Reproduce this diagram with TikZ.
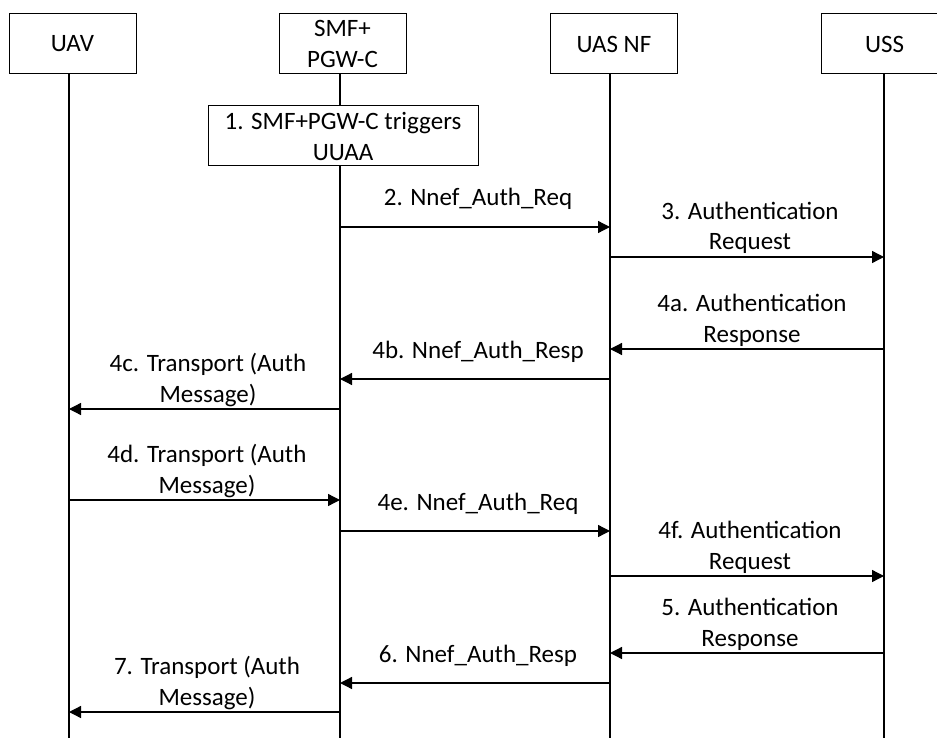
\documentclass[tikz,border=0pt]{standalone}
\usepackage{fontspec}
\setmainfont{Carlito}
\usetikzlibrary{arrows.meta}
\begin{document}
\begin{tikzpicture}[x=1pt,y=-1pt,
  actor/.style={draw, line width=1pt, fill=white, minimum width=127pt, minimum height=60pt, align=center, inner sep=0pt, font=\fontsize{25}{31}\selectfont},
  lifeline/.style={line width=1.3pt},
  msg/.style={line width=1.3pt, -{Triangle[length=12pt,width=12pt]}},
  lbl/.style={anchor=base, align=center, inner sep=0pt, font=\fontsize{25}{31}\selectfont},
]
\path[use as bounding box] (0,0) rectangle (937,738);
\clip (0,0) rectangle (937,738);

% lifeline anchors
\coordinate (uavL) at (69,74);  \coordinate (uavE) at (69,738);
\coordinate (smfL) at (340,74); \coordinate (smfE) at (340,738);
\coordinate (uasL) at (610,74); \coordinate (uasE) at (610,738);
\coordinate (ussL) at (884,74); \coordinate (ussE) at (884,738);

\draw[lifeline] (uavL) -- (uavE);
\draw[lifeline] (smfL) -- (smfE);
\draw[lifeline] (uasL) -- (uasE);
\draw[lifeline] (ussL) -- (ussE);

% actors
\node[actor] (uav) at (72.5,44) {UAV};
\node[actor] (smf) at (342.5,44) {SMF+\\PGW-C};
\node[actor] (uas) at (614,44) {UAS NF};
\node[actor] (uss) at (884.5,44) {USS};

% step 1
\node[actor, minimum width=270pt] (s1) at (343,136) {1. SMF+PGW-C triggers\\UUAA};

% messages
\draw[msg] (smfL |- 0,227) -- (uasL |- 0,227);
\draw[msg] (uasL |- 0,257) -- (ussL |- 0,257);
\draw[msg] (ussL |- 0,349) -- (uasL |- 0,349);
\draw[msg] (uasL |- 0,379) -- (smfL |- 0,379);
\draw[msg] (smfL |- 0,409) -- (uavL |- 0,409);
\draw[msg] (uavL |- 0,500) -- (smfL |- 0,500);
\draw[msg] (smfL |- 0,531) -- (uasL |- 0,531);
\draw[msg] (uasL |- 0,576) -- (ussL |- 0,576);
\draw[msg] (ussL |- 0,653) -- (uasL |- 0,653);
\draw[msg] (uasL |- 0,683) -- (smfL |- 0,683);
\draw[msg] (smfL |- 0,712) -- (uavL |- 0,712);

% labels (anchor = baseline of last line)
\node[lbl] (l2)  at (478,206) {2. Nnef\_Auth\_Req};
\node[lbl] (l3)  at (750,250) {3. Authentication\\Request};
\node[lbl] (l4a) at (752,342) {4a. Authentication\\Response};
\node[lbl] (l4b) at (478,358) {4b. Nnef\_Auth\_Resp};
\node[lbl] (l4c) at (208,402) {4c. Transport (Auth\\Message)};
\node[lbl] (l4d) at (207,493) {4d. Transport (Auth\\Message)};
\node[lbl] (l4e) at (478,510) {4e. Nnef\_Auth\_Req};
\node[lbl] (l4f) at (750,569) {4f. Authentication\\Request};
\node[lbl] (l5)  at (750,646) {5. Authentication\\Response};
\node[lbl] (l6)  at (478,662) {6. Nnef\_Auth\_Resp};
\node[lbl] (l7)  at (207,705) {7. Transport (Auth\\Message)};
\end{tikzpicture}
\end{document}
